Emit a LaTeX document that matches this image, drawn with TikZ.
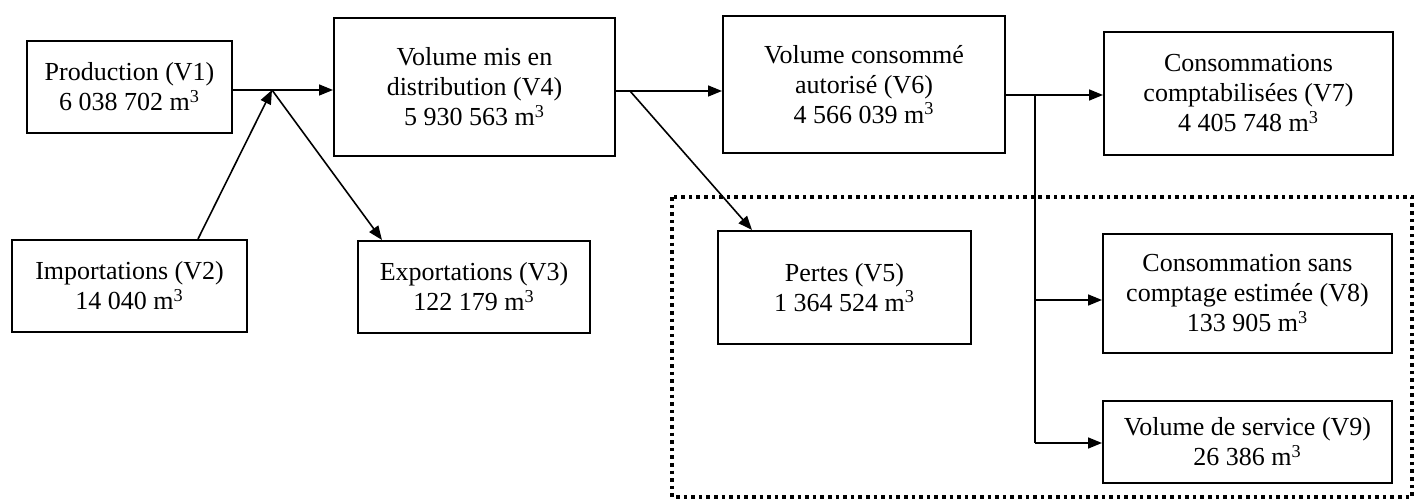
\documentclass[tikz,border=0pt]{standalone}
\usepackage{fontspec}
\setmainfont{Liberation Serif}
\usetikzlibrary{arrows.meta}
\tikzset{
  box/.style={draw, line width=1pt, align=center, inner sep=0pt,
    font=\fontsize{13}{15}\selectfont},
  arr/.style={line width=0.8pt, -{Triangle[length=7pt,width=5.5pt]}},
  ln/.style={line width=0.8pt},
  dotbox/.style={draw, line width=2pt, dash pattern=on 1.8pt off 2pt}
}
\begin{document}
\begin{tikzpicture}[x=0.5pt,y=-0.5pt]
\useasboundingbox (0,0) rectangle (1415,501);
\draw[dotbox] (672,197) rectangle (1412,497);
\node[box, minimum width=102.5pt, minimum height=46pt] (v1) at (129.5,87) {Production (V1)\\6 038 702 m\textsuperscript{3}};
\node[box, minimum width=117.5pt, minimum height=46pt] (v2) at (129.5,286) {Importations (V2)\\14 040 m\textsuperscript{3}};
\node[box, minimum width=140.5pt, minimum height=69pt] (v4) at (474.5,87) {Volume mis en\\distribution (V4)\\5 930 563 m\textsuperscript{3}};
\node[box, minimum width=116pt, minimum height=46pt] (v3) at (474,287) {Exportations (V3)\\122 179 m\textsuperscript{3}};
\node[box, minimum width=141pt, minimum height=68.5pt] (v6) at (864,84.5) {Volume consommé\\autorisé (V6)\\4 566 039 m\textsuperscript{3}};
\node[box, minimum width=126.5pt, minimum height=56.5pt] (v5) at (844.5,287.5) {Pertes (V5)\\1 364 524 m\textsuperscript{3}};
\node[box, minimum width=144.5pt, minimum height=61.5pt] (v7) at (1248.5,93.5) {Consommations\\comptabilisées (V7)\\4 405 748 m\textsuperscript{3}};
\node[box, minimum width=144.5pt, minimum height=59.5pt] (v8) at (1247.5,293.5) {Consommation sans\\comptage estimée (V8)\\133 905 m\textsuperscript{3}};
\node[box, minimum width=144.5pt, minimum height=41pt] (v9) at (1247.5,442) {Volume de service (V9)\\26 386 m\textsuperscript{3}};
\coordinate (j) at (272,90);
\coordinate (b) at (630,91);
\coordinate (t) at (1035,95);
\coordinate (t8) at (1035,300);
\coordinate (t9) at (1035,443);
\draw[ln] (v1.east |- j) -- (j);
\draw[arr] (j) -- (v4.west |- j);
\draw[arr] (v2.north -| 198,0) -- (j);
\draw[arr] (j) -- (v3.north -| 382,0);
\draw[arr] (v4.east |- b) -- (v6.west |- b);
\draw[arr] (b) -- (v5.north -| 752,0);
\draw[arr] (v6.east |- t) -- (v7.west |- t);
\draw[ln] (t) -- (t9);
\draw[arr] (t8) -- (v8.west |- t8);
\draw[arr] (t9) -- (v9.west |- t9);
\end{tikzpicture}
\end{document}
